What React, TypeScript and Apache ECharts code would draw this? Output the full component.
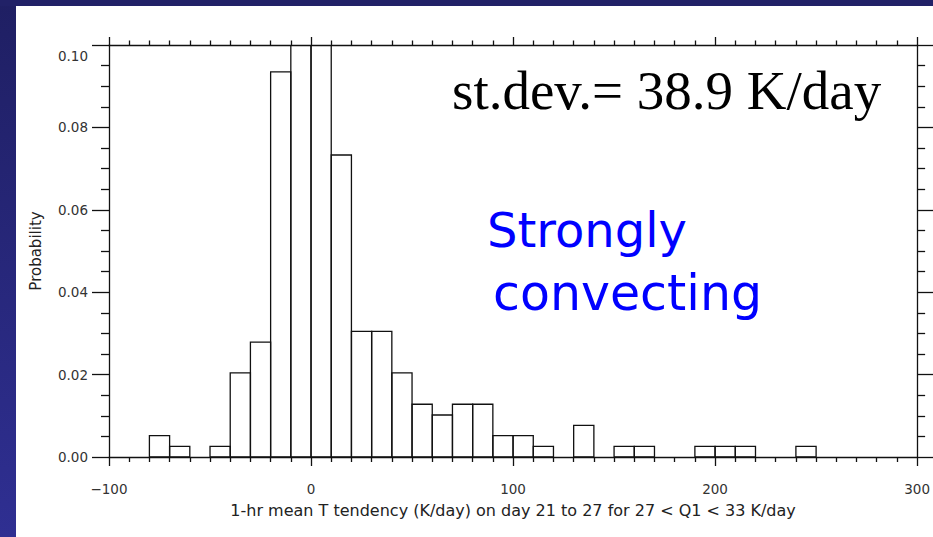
import React, { useEffect, useRef } from "react";
import * as echarts from "echarts";

// Histogram bins (left edge, K/day), width 10
const binStarts = [-80, -70, -50, -40, -30, -20, -10, 0, 10, 20, 30, 40, 50, 60, 70, 80, 90, 100, 110, 130, 150, 160, 190, 200, 210, 240];
// Probability per bin (the two central bins are clipped at 0.10 in the picture; estimated)
const probabilities = [0.0052, 0.0026, 0.0026, 0.0204, 0.0279, 0.0935, 0.16, 0.14, 0.0733, 0.0305, 0.0305, 0.0204, 0.0128, 0.0102, 0.0128, 0.0128, 0.0052, 0.0052, 0.0026, 0.0077, 0.0026, 0.0026, 0.0026, 0.0026, 0.0026, 0.0026];
const binWidth = 10;

const xTitle = "1-hr mean T tendency (K/day) on day 21 to 27 for 27 < Q1 < 33 K/day";
const yTitle = "Probability";
const statText = "st.dev.= 38.9 K/day";
const noteLines = ["Strongly", "convecting"];

export default function App() {
  const ref = useRef<HTMLDivElement>(null);
  useEffect(() => {
    if (!ref.current) return;
    const chart = echarts.init(ref.current, null, { renderer: "svg" });
    const data = binStarts.map((s, i) => [s, s + binWidth, probabilities[i]]);
    const tickFont = { fontFamily: "DejaVu Sans", fontSize: 13.5, color: "#333" };
    const lineStyle = { color: "#111", width: 1.3 };
    const baseX = {
      type: "value",
      min: -100,
      max: 300,
      interval: 100,
      splitLine: { show: false },
      axisLine: { show: true, onZero: false, lineStyle },
      minorTick: { show: true, splitNumber: 10, lineStyle },
    };
    const baseY = {
      type: "value",
      min: 0,
      max: 0.1,
      interval: 0.02,
      splitLine: { show: false },
      axisLine: { show: true, onZero: false, lineStyle },
      minorTick: { show: true, splitNumber: 4, lineStyle },
    };
    chart.setOption({
      animation: false,
      backgroundColor: "#ffffff",
      grid: { left: 109, right: 15, top: 45, bottom: 80, containLabel: false },
      xAxis: [
        {
          ...baseX,
          position: "bottom",
          axisTick: { show: true, length: 9, lineStyle },
          minorTick: { ...baseX.minorTick, length: 5 },
          axisLabel: {
            ...tickFont,
            margin: 25,
            formatter: (v: number) => (v < 0 ? "\u2212" + Math.abs(v) : String(v)),
          },
          name: xTitle,
          nameLocation: "middle",
          nameGap: 45,
          nameTextStyle: { fontFamily: "DejaVu Sans", fontSize: 16, color: "#222" },
        },
        {
          ...baseX,
          position: "top",
          axisTick: { show: true, length: 8, lineStyle },
          minorTick: { ...baseX.minorTick, length: 4.5 },
          axisLabel: { show: false },
        },
      ],
      yAxis: [
        {
          ...baseY,
          position: "left",
          axisTick: { show: true, length: 17, lineStyle },
          minorTick: { ...baseY.minorTick, length: 8 },
          axisLabel: {
            ...tickFont,
            margin: 21,
            formatter: (v: number) => (v >= 0.099 ? "{top|" + v.toFixed(2) + "}" : v.toFixed(2)),
            rich: { top: { ...tickFont, padding: [22, 0, 0, 0] } },
          },
          name: yTitle,
          nameLocation: "middle",
          nameGap: 66,
          nameTextStyle: { fontFamily: "DejaVu Sans", fontSize: 15, color: "#222" },
        },
        {
          ...baseY,
          position: "right",
          axisTick: { show: true, length: 16, lineStyle },
          minorTick: { ...baseY.minorTick, length: 8 },
          axisLabel: { show: false },
        },
      ],
      series: [
        {
          type: "custom",
          xAxisIndex: 0,
          yAxisIndex: 0,
          clip: true,
          z: 1,
          encode: { x: [0, 1], y: 2 },
          data,
          renderItem: (params: any, api: any) => {
            const p0 = api.coord([api.value(0), api.value(2)]);
            const p1 = api.coord([api.value(1), 0]);
            return {
              type: "rect",
              shape: { x: p0[0], y: p0[1], width: p1[0] - p0[0], height: p1[1] - p0[1] },
              style: { fill: "none", stroke: "#111", lineWidth: 1.3 },
            };
          },
        },
      ],
      graphic: [
        {
          type: "rect",
          left: 0,
          top: 0,
          shape: { width: 16, height: 537 },
          style: {
            fill: new echarts.graphic.LinearGradient(0, 0, 0, 1, [
              { offset: 0, color: "#1f1f63" },
              { offset: 1, color: "#2f2f92" },
            ]),
          },
          silent: true,
        },
        {
          type: "rect",
          left: 0,
          top: 0,
          shape: { width: 933, height: 6 },
          style: { fill: "#212167" },
          silent: true,
        },
        {
          type: "text",
          x: 452,
          y: 90,
          style: {
            text: statText,
            fontFamily: "Liberation Serif",
            fontSize: 55,
            fill: "#000",
            textAlign: "left",
            textVerticalAlign: "middle",
          },
        },
        {
          type: "text",
          x: 487,
          y: 230,
          style: {
            text: noteLines[0],
            fontFamily: "DejaVu Sans",
            fontSize: 48,
            fill: "#0000ff",
            textAlign: "left",
            textVerticalAlign: "middle",
          },
        },
        {
          type: "text",
          x: 493,
          y: 293,
          style: {
            text: noteLines[1],
            fontFamily: "DejaVu Sans",
            fontSize: 49,
            fill: "#0000ff",
            textAlign: "left",
            textVerticalAlign: "middle",
          },
        },
      ],
    });
    return () => chart.dispose();
  }, []);
  return (
    <div
      ref={ref}
      style={{ position: "fixed", left: 0, top: 0, width: 933, height: 537, background: "#fff" }}
    />
  );
}
